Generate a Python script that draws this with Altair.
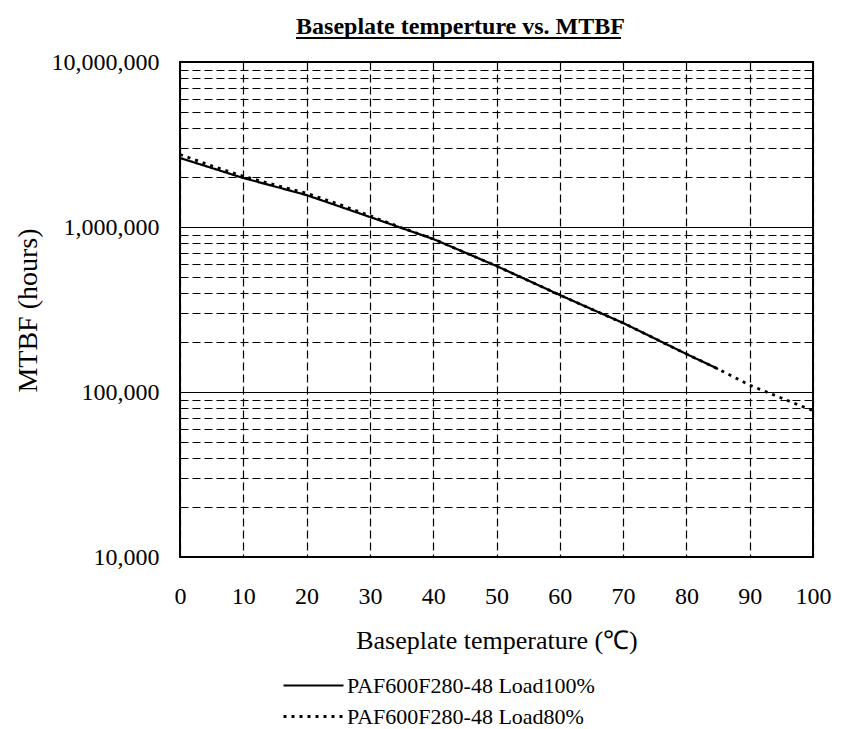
import altair as alt
import pandas as pd

# Data
temps_100 = [0, 5, 10, 15, 20, 25, 30, 35, 40, 45, 50, 55, 60, 65, 70, 75, 80, 85]
mtbf_100 = [2620000, 2280000, 1980000, 1760000, 1560000, 1340000, 1150000, 986000,
            846000, 701000, 580000, 474000, 387000, 318000, 262000, 211000, 170000, 138000]

temps_80 = [0, 5, 10, 15, 20, 25, 30, 35, 40, 45, 50, 55, 60, 65, 70, 75, 80, 85, 90, 95, 100]
mtbf_80 = [2750000, 2350000, 2030000, 1800000, 1600000, 1380000, 1170000, 990000,
           846000, 701000, 580000, 474000, 387000, 318000, 262000, 211000, 170000, 138000,
           110000, 92000, 77000]

series_names = ["PAF600F280-48 Load100%", "PAF600F280-48 Load80%"]
x_ticks = [0, 10, 20, 30, 40, 50, 60, 70, 80, 90, 100]
y_major = [10000, 100000, 1000000, 10000000]
y_grid = [k * d for d in [10000, 100000, 1000000] for k in range(1, 10)] + [10000000]

df = pd.concat([
    pd.DataFrame({"temp": temps_100, "mtbf": mtbf_100, "series": series_names[0]}),
    pd.DataFrame({"temp": temps_80, "mtbf": mtbf_80, "series": series_names[1]}),
])

FONT = "Liberation Serif"

major_test = " || ".join(f"datum.value == {v}" for v in y_major)

lines = alt.Chart(df).mark_line(color="black", strokeCap="butt").encode(
    x=alt.X("temp:Q", scale=alt.Scale(domain=[0, 100], nice=False),
            axis=alt.Axis(values=x_ticks, title="Baseplate temperature (℃)",
                          grid=True, gridColor="black", gridDash=[8, 4], gridWidth=1.2,
                          gridOpacity=1, ticks=False, domain=False, labelFlush=False,
                          labelFont=FONT, labelFontSize=24, labelColor="black",
                          labelPadding=27, titleFont=FONT, titleFontSize=26,
                          titleFontWeight="normal", titleColor="black", titlePadding=19)),
    y=alt.Y("mtbf:Q", scale=alt.Scale(type="log", domain=[10000, 10000000], nice=False),
            axis=alt.Axis(values=y_grid, format=",d",
                          labelExpr=f"({major_test}) ? datum.label : ''",
                          title="MTBF (hours)",
                          grid=True, gridColor="black", gridOpacity=1,
                          gridDash={"condition": {"test": major_test, "value": []}, "value": [8, 4]},
                          gridWidth={"condition": {"test": major_test, "value": 1}, "value": 1.2},
                          ticks=False, domain=False, labelFlush=False,
                          labelFont=FONT, labelFontSize=24, labelColor="black",
                          labelPadding=21, titleFont=FONT, titleFontSize=28,
                          titleFontWeight="normal", titleColor="black",
                          titleX=-138, titleY=248)),
    strokeDash=alt.StrokeDash("series:N",
                              scale=alt.Scale(domain=series_names, range=[[1, 0], [3, 5]]),
                              legend=alt.Legend(title=None, orient="none", legendX=122, legendY=612,
                                                symbolType="M-3,0H3", symbolSize=400,
                                                symbolStrokeWidth=2.6, symbolStrokeColor="black",
                                                symbolFillColor="transparent",
                                                labelFont=FONT, labelFontSize=22, labelColor="black",
                                                labelLimit=600, rowPadding=8, labelOffset=22)),
    strokeWidth=alt.StrokeWidth("series:N",
                                scale=alt.Scale(domain=series_names, range=[2.2, 2.8]),
                                legend=None),
)

underline = alt.Chart(pd.DataFrame({"a": [0]})).mark_rule(color="black", strokeWidth=2).encode(
    x=alt.value(116), x2=alt.value(441), y=alt.value(-24)
)

chart = alt.layer(lines, underline).properties(
    width=633, height=495,
    autosize=alt.AutoSizeParams(type="none"),
    padding={"left": 172, "top": 54, "right": 27, "bottom": 172},
    title=alt.TitleParams("Baseplate temperture vs. MTBF", font=FONT, fontSize=24,
                          fontWeight="bold", color="black", anchor="middle", dx=-36, offset=-2),
).configure_view(stroke="black", strokeWidth=2)

chart.save("out.html", embed_options={"renderer": "svg", "actions": False})
